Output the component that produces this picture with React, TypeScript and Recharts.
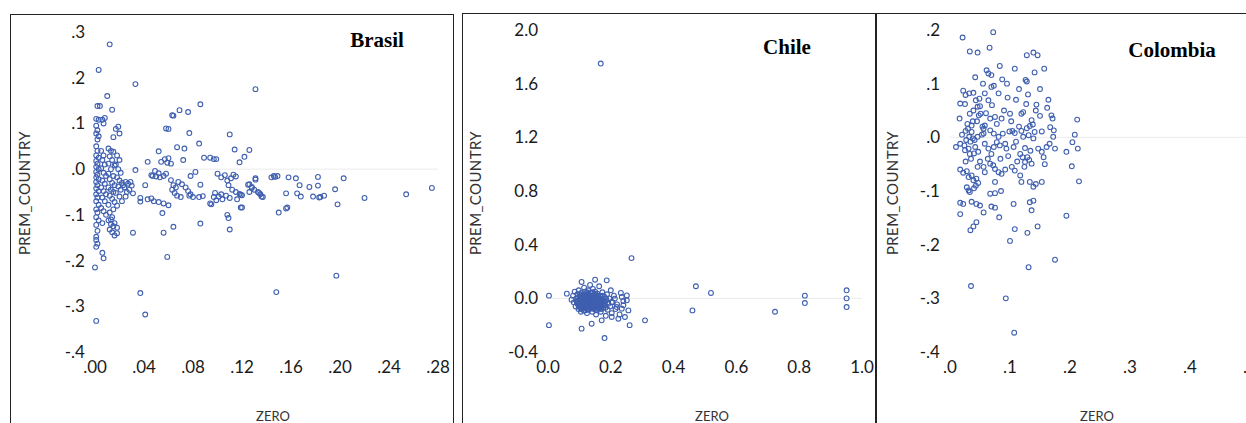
import { ReferenceLine, Scatter, ScatterChart, XAxis, YAxis } from 'recharts';

type Pt = [number, number];

// Brasil: ZERO vs PREM_COUNTRY
const brasilPoints: Pt[] = [
  [0.012, 0.273], [0.003, 0.217], [0.033, 0.186], [0.131, 0.175], [0.010, 0.160], [0.002, 0.138], [0.004, 0.138],
  [0.014, 0.130], [0.086, 0.142], [0.069, 0.129], [0.076, 0.125], [0.063, 0.118], [0.064, 0.117], [0.058, 0.089],
  [0.060, 0.088], [0.077, 0.079], [0.110, 0.076], [0.085, 0.056], [0.073, 0.045], [0.052, 0.039], [0.114, 0.043],
  [0.126, 0.042], [0.122, 0.027], [0.118, 0.015], [0.097, 0.022], [0.099, 0.022], [0.072, 0.020], [0.054, 0.016],
  [0.057, 0.022], [0.060, 0.024], [0.062, 0.012], [0.059, 0.014], [0.043, 0.016], [0.033, -0.002],
  [0.082, -0.006], [0.078, -0.015], [0.046, -0.013], [0.050, -0.016], [0.053, -0.018], [0.056, -0.015], [0.058, -0.010],
  [0.062, -0.024], [0.064, -0.035], [0.063, -0.045], [0.065, -0.052], [0.067, -0.058], [0.070, -0.061], [0.066, -0.040],
  [0.068, -0.028], [0.071, -0.033], [0.074, -0.040], [0.076, -0.048], [0.078, -0.055], [0.080, -0.061], [0.077, -0.058],
  [0.086, -0.034], [0.085, -0.061], [0.088, -0.059], [0.041, -0.035], [0.037, -0.063], [0.043, -0.066], [0.048, -0.070],
  [0.052, -0.072], [0.056, -0.075], [0.060, -0.079], [0.094, -0.075], [0.098, -0.052], [0.101, -0.060], [0.104, -0.066],
  [0.107, -0.058], [0.110, -0.063], [0.103, -0.055], [0.100, -0.010], [0.103, -0.018], [0.106, -0.013], [0.108, -0.025],
  [0.111, -0.020], [0.113, -0.012], [0.115, -0.016], [0.109, -0.035], [0.112, -0.045], [0.115, -0.050], [0.118, -0.054],
  [0.120, -0.057], [0.125, -0.034], [0.128, -0.041], [0.130, -0.045], [0.133, -0.050], [0.135, -0.055], [0.137, -0.061],
  [0.131, -0.020], [0.144, -0.018], [0.146, -0.015], [0.158, -0.018], [0.156, -0.053], [0.156, -0.086], [0.150, -0.095],
  [0.119, -0.084], [0.108, -0.100], [0.109, -0.107], [0.086, -0.119], [0.064, -0.126], [0.055, -0.096], [0.031, -0.139],
  [0.056, -0.139], [0.110, -0.132], [0.059, -0.192], [0.000, -0.215], [0.001, -0.332], [0.037, -0.271], [0.041, -0.318],
  [0.148, -0.269], [0.197, -0.233], [0.157, -0.084], [0.120, -0.084], [0.006, -0.183], [0.007, -0.195], [0.001, -0.170],
  [0.002, -0.163], [0.001, -0.155], [0.001, -0.148],
  [0.275, -0.041], [0.254, -0.055], [0.220, -0.063], [0.203, -0.020], [0.198, -0.077], [0.196, -0.044], [0.187, -0.058],
  [0.183, -0.062], [0.184, -0.061], [0.178, -0.060], [0.182, -0.036], [0.182, -0.017], [0.175, -0.039], [0.168, -0.060],
  [0.167, -0.035], [0.165, -0.053], [0.164, -0.020], [0.149, -0.015], [0.147, -0.017], [0.136, -0.060], [0.134, -0.052],
  [0.128, -0.039], [0.131, -0.023], [0.126, -0.033], [0.126, -0.050], [0.119, -0.056], [0.116, -0.066], [0.097, -0.061],
  [0.095, -0.077], [0.099, -0.068], [0.089, 0.025], [0.094, 0.025], [0.067, 0.048], [0.052, -0.009], [0.049, -0.004],
  [0.047, -0.015], [0.030, -0.036], [0.029, -0.028], [0.031, -0.053], [0.046, -0.064], [0.037, -0.071],
  [0.001, 0.110], [0.003, 0.108], [0.001, 0.095], [0.002, 0.085], [0.001, 0.078], [0.003, 0.072], [0.002, 0.065],
  [0.001, 0.050], [0.002, 0.040], [0.001, 0.030], [0.003, 0.025], [0.001, 0.018], [0.002, 0.012], [0.001, 0.005],
  [0.003, 0.000], [0.001, -0.006], [0.002, -0.012], [0.001, -0.018], [0.003, -0.022], [0.001, -0.028], [0.002, -0.035],
  [0.001, -0.042], [0.003, -0.048], [0.001, -0.055], [0.002, -0.062], [0.001, -0.070], [0.003, -0.078], [0.001, -0.088],
  [0.002, -0.095], [0.001, -0.105], [0.003, -0.112], [0.001, -0.122], [0.002, -0.135],
  [0.006, 0.108], [0.008, 0.112], [0.007, 0.100], [0.005, 0.040], [0.007, 0.030], [0.006, 0.020], [0.008, 0.010],
  [0.005, 0.002], [0.007, -0.008], [0.009, -0.015], [0.006, -0.025], [0.008, -0.032], [0.005, -0.040], [0.007, -0.048],
  [0.009, -0.055], [0.006, -0.062], [0.008, -0.070], [0.005, -0.085], [0.007, -0.092], [0.006, -0.118], [0.009, -0.100],
  [0.011, 0.045], [0.013, 0.040], [0.015, 0.038], [0.012, 0.028], [0.014, 0.020], [0.011, 0.012], [0.016, 0.008],
  [0.013, 0.000], [0.011, -0.010], [0.015, -0.015], [0.012, -0.022], [0.014, -0.030], [0.016, -0.035], [0.011, -0.040],
  [0.013, -0.045], [0.015, -0.050], [0.012, -0.058], [0.014, -0.065], [0.016, -0.072], [0.011, -0.078], [0.012, -0.095],
  [0.014, -0.105], [0.011, -0.112], [0.013, -0.120], [0.015, -0.125], [0.012, -0.132], [0.014, -0.138], [0.016, -0.145],
  [0.013, -0.110], [0.016, -0.118], [0.018, -0.128], [0.018, -0.140],
  [0.018, 0.030], [0.020, 0.020], [0.017, 0.010], [0.019, 0.000], [0.021, -0.008], [0.018, -0.018], [0.020, -0.025],
  [0.022, -0.030], [0.019, -0.038], [0.021, -0.045], [0.017, -0.052], [0.020, -0.060], [0.023, -0.035], [0.025, -0.028],
  [0.024, -0.040], [0.026, -0.050], [0.027, -0.032], [0.022, -0.070], [0.018, -0.080], [0.015, -0.088], [0.019, 0.093],
  [0.020, 0.078], [0.017, 0.088], [0.015, 0.070], [0.025, -0.060], [0.028, -0.045],
];

// Chile
const chilePoints: Pt[] = [
  [0.168, 1.75], [0.266, 0.30], [0.471, 0.09], [0.519, 0.04], [0.46, -0.09], [0.723, -0.10], [0.818, 0.02],
  [0.818, -0.035], [0.951, 0.06], [0.951, 0.0], [0.951, -0.065], [0.003, 0.02], [0.003, -0.20], [0.18, -0.296],
  [0.309, -0.164], [0.26, -0.20], [0.107, 0.122], [0.15, 0.139], [0.187, 0.134], [0.06, 0.035],
  [0.235, 0.01], [0.251, -0.015], [0.256, -0.09], [0.245, -0.139], [0.224, -0.152], [0.203, -0.139], [0.171, -0.164],
  [0.139, -0.189], [0.107, -0.226], [0.203, -0.027], [0.219, -0.065], [0.235, -0.077], [0.24, -0.052], [0.251, 0.022],
  [0.213, -0.002],
  [0.075, -0.01], [0.08, 0.02], [0.082, -0.03], [0.085, 0.05], [0.088, -0.06], [0.09, 0.0], [0.092, -0.02],
  [0.094, 0.03], [0.095, -0.045], [0.097, -0.08], [0.098, 0.06], [0.1, -0.01], [0.1, -0.035], [0.102, 0.015],
  [0.103, -0.06], [0.105, -0.1], [0.106, 0.04], [0.107, -0.02], [0.108, -0.05], [0.11, 0.0], [0.11, -0.075],
  [0.112, 0.025], [0.113, -0.03], [0.114, -0.09], [0.115, 0.08], [0.116, -0.01], [0.117, -0.055], [0.118, 0.05],
  [0.12, -0.04], [0.12, 0.01], [0.121, -0.07], [0.122, -0.02], [0.123, 0.03], [0.124, -0.11], [0.125, -0.05],
  [0.126, 0.0], [0.127, -0.03], [0.128, 0.06], [0.129, -0.085], [0.13, -0.015], [0.131, 0.02], [0.132, -0.06],
  [0.133, -0.04], [0.134, 0.1], [0.135, -0.005], [0.136, -0.025], [0.137, -0.07], [0.138, 0.04], [0.139, -0.045],
  [0.14, 0.01], [0.141, -0.1], [0.142, -0.03], [0.143, 0.07], [0.144, -0.055], [0.145, -0.01], [0.146, 0.025],
  [0.147, -0.08], [0.148, -0.04], [0.149, 0.0], [0.15, 0.05], [0.151, -0.065], [0.152, -0.02], [0.153, -0.12],
  [0.154, 0.015], [0.155, -0.045], [0.156, -0.09], [0.157, 0.035], [0.158, -0.03], [0.16, -0.06], [0.161, 0.0],
  [0.162, -0.015], [0.163, 0.09], [0.164, -0.075], [0.165, -0.04], [0.167, 0.02], [0.168, -0.1], [0.17, -0.025],
  [0.171, -0.055], [0.173, 0.045], [0.174, -0.005], [0.176, -0.07], [0.178, -0.035], [0.18, 0.01], [0.182, -0.05],
  [0.184, -0.13], [0.186, -0.015], [0.188, 0.03], [0.19, -0.085], [0.192, -0.04], [0.195, 0.0], [0.198, -0.06],
  [0.2, 0.06], [0.203, -0.11], [0.206, -0.03], [0.21, 0.02], [0.215, -0.08], [0.22, -0.045], [0.228, -0.12],
  [0.232, 0.04], [0.24, -0.02],
  [0.095, -0.015], [0.098, -0.05], [0.104, -0.025], [0.108, 0.01], [0.111, -0.045], [0.115, -0.065], [0.119, -0.005],
  [0.122, -0.04], [0.126, -0.08], [0.128, 0.015], [0.131, -0.05], [0.134, -0.02], [0.137, 0.005], [0.14, -0.065],
  [0.143, -0.035], [0.146, -0.05], [0.149, -0.025], [0.152, 0.01], [0.155, -0.07], [0.158, -0.01], [0.161, -0.045],
  [0.165, -0.02], [0.168, -0.06], [0.172, -0.03], [0.176, -0.045], [0.12, -0.025], [0.13, -0.035], [0.14, -0.02],
  [0.11, -0.06], [0.125, -0.015],
  [0.092, -0.035], [0.096, 0.005], [0.099, -0.065], [0.101, 0.03], [0.104, -0.045], [0.106, -0.08], [0.109, -0.015],
  [0.111, 0.015], [0.113, -0.055], [0.116, -0.035], [0.118, 0.025], [0.119, -0.09], [0.121, -0.05], [0.123, -0.01],
  [0.124, 0.045], [0.127, -0.065], [0.129, -0.025], [0.13, 0.035], [0.132, -0.08], [0.133, -0.01], [0.135, -0.045],
  [0.136, 0.02], [0.138, -0.055], [0.139, -0.03], [0.141, 0.045], [0.142, -0.075], [0.144, -0.015], [0.145, -0.04],
  [0.147, 0.01], [0.148, -0.06], [0.15, -0.03], [0.151, 0.03], [0.153, -0.085], [0.154, -0.05], [0.156, -0.02],
  [0.157, 0.0], [0.159, -0.04], [0.16, 0.02], [0.162, -0.065], [0.163, -0.03], [0.166, -0.05], [0.167, 0.0],
  [0.169, -0.04], [0.17, -0.08], [0.173, -0.015], [0.175, 0.02], [0.177, -0.055], [0.18, -0.025], [0.183, -0.07],
  [0.185, 0.0], [0.105, -0.005], [0.117, -0.025], [0.128, -0.045], [0.139, -0.01], [0.147, -0.065], [0.158, -0.05],
];

// Colombia
const colombiaPoints: Pt[] = [
  [0.021, 0.186], [0.072, 0.196], [0.033, 0.160], [0.046, 0.158], [0.066, 0.167], [0.128, 0.153], [0.139, 0.158],
  [0.146, 0.153], [0.083, 0.133], [0.108, 0.128], [0.157, 0.128], [0.061, 0.125], [0.064, 0.119], [0.069, 0.116],
  [0.087, 0.108], [0.126, 0.107], [0.141, 0.121], [0.042, 0.112], [0.128, 0.104], [0.069, 0.094], [0.073, 0.096],
  [0.022, 0.087], [0.026, 0.079], [0.032, 0.082], [0.017, 0.063], [0.025, 0.062], [0.039, 0.083], [0.043, 0.069],
  [0.049, 0.072], [0.058, 0.082], [0.064, 0.069], [0.081, 0.082], [0.096, 0.074], [0.110, 0.070], [0.130, 0.080],
  [0.164, 0.070], [0.144, 0.061], [0.143, 0.050], [0.169, 0.041], [0.171, 0.035], [0.212, 0.033], [0.016, 0.035],
  [0.033, 0.044], [0.039, 0.050], [0.046, 0.057], [0.050, 0.058], [0.048, 0.041], [0.051, 0.044], [0.067, 0.035],
  [0.075, 0.038], [0.086, 0.035], [0.100, 0.044], [0.119, 0.044], [0.122, 0.047], [0.136, 0.032], [0.036, 0.022],
  [0.054, 0.020], [0.058, 0.022], [0.056, 0.016], [0.026, 0.012], [0.030, 0.016], [0.036, 0.010], [0.032, 0.001],
  [0.038, -0.002], [0.027, -0.005], [0.034, -0.008], [0.041, -0.005], [0.046, 0.001], [0.056, 0.007], [0.067, 0.013],
  [0.073, 0.007], [0.081, 0.001], [0.088, 0.007], [0.099, 0.011], [0.104, 0.012], [0.108, 0.008], [0.119, 0.012],
  [0.128, 0.017], [0.133, 0.021], [0.138, 0.024], [0.122, 0.001], [0.131, 0.004], [0.139, -0.002], [0.153, 0.011],
  [0.167, 0.019], [0.173, 0.013], [0.172, 0.001], [0.017, -0.012], [0.010, -0.018], [0.025, -0.024], [0.031, -0.021],
  [0.033, -0.031], [0.042, -0.018], [0.047, -0.027], [0.058, -0.012], [0.064, -0.021], [0.069, -0.031], [0.073, -0.018],
  [0.078, -0.009], [0.083, -0.015], [0.092, -0.012], [0.094, -0.021], [0.106, -0.018], [0.117, -0.031], [0.121, -0.037],
  [0.125, -0.046], [0.129, -0.037], [0.132, -0.042], [0.136, -0.049], [0.147, -0.021], [0.153, -0.027], [0.156, -0.037],
  [0.161, -0.018], [0.166, -0.012], [0.175, -0.021], [0.194, -0.027], [0.204, -0.009], [0.208, 0.005], [0.213, -0.021],
  [0.203, -0.054], [0.215, -0.082], [0.017, -0.060], [0.022, -0.066], [0.028, -0.063], [0.031, -0.074], [0.036, -0.071],
  [0.039, -0.080], [0.044, -0.077], [0.047, -0.085], [0.028, -0.093], [0.031, -0.099], [0.033, -0.102], [0.040, -0.095],
  [0.043, -0.090], [0.056, -0.055], [0.058, -0.065], [0.067, -0.049], [0.072, -0.052], [0.075, -0.059], [0.081, -0.065],
  [0.086, -0.068], [0.092, -0.060], [0.103, -0.055], [0.108, -0.062], [0.117, -0.071], [0.075, -0.083], [0.119, -0.083],
  [0.133, -0.083], [0.139, -0.092], [0.143, -0.087], [0.153, -0.083], [0.017, -0.122], [0.022, -0.124], [0.036, -0.120],
  [0.017, -0.143], [0.044, -0.124], [0.050, -0.127], [0.056, -0.140], [0.069, -0.129], [0.075, -0.131], [0.067, -0.105],
  [0.075, -0.104], [0.082, -0.149], [0.106, -0.124], [0.133, -0.121], [0.139, -0.118], [0.136, -0.136], [0.034, -0.173],
  [0.039, -0.166], [0.044, -0.158], [0.108, -0.171], [0.129, -0.178], [0.146, -0.166], [0.100, -0.193], [0.194, -0.146],
  [0.175, -0.228], [0.131, -0.242], [0.035, -0.277], [0.093, -0.300], [0.107, -0.364],
  [0.020, 0.005], [0.024, -0.015], [0.029, 0.025], [0.035, -0.040], [0.040, -0.030], [0.045, 0.030], [0.050, -0.045],
  [0.053, 0.005], [0.060, 0.045], [0.063, -0.040], [0.070, 0.060], [0.078, 0.025], [0.084, -0.040], [0.090, 0.050],
  [0.097, -0.035], [0.102, 0.030], [0.112, -0.045], [0.115, 0.020], [0.124, -0.055], [0.127, 0.062], [0.134, -0.025],
  [0.141, 0.010], [0.150, 0.040], [0.158, -0.050], [0.162, 0.055], [0.110, -0.008], [0.125, -0.020], [0.046, -0.055],
  [0.026, -0.045], [0.038, 0.030], [0.115, 0.090], [0.095, 0.100], [0.055, 0.100], [0.150, 0.090], [0.085, -0.100],
];

const brasilXTicks = [0, 0.04, 0.08, 0.12, 0.16, 0.2, 0.24, 0.28];
const brasilYTicks = [-0.4, -0.3, -0.2, -0.1, 0, 0.1, 0.2, 0.3];
const chileXTicks = [0, 0.2, 0.4, 0.6, 0.8, 1.0];
const chileYTicks = [-0.4, 0, 0.4, 0.8, 1.2, 1.6, 2.0];
const colombiaXTicks = [0, 0.1, 0.2, 0.3, 0.4, 0.5];
const colombiaYTicks = [-0.4, -0.3, -0.2, -0.1, 0, 0.1, 0.2];

const SANS = 'Lato, "Open Sans", sans-serif';
const SERIF = '"Liberation Serif", "Times New Roman", serif';
const DOT = '#3f5fb0';

// ".04" / "-.1" style used by EViews
const dotFmt = (dec: number) => (v: number) => {
  const s = Math.abs(v).toFixed(dec).replace(/^0/, '');
  return v < -1e-9 ? '-' + s : s;
};
const plainFmt = (v: number) => v.toFixed(1);

const renderDot = (props: any) => (
  <circle cx={props.cx} cy={props.cy} r={2.4} fill="none" stroke={DOT} strokeWidth={1.1} />
);

interface PanelProps {
  points: Pt[];
  left: number;
  width: number;
  yAxisWidth: number;
  top: number;
  xDomain: [number, number];
  yDomain: [number, number];
  xTicks: number[];
  yTicks: number[];
  fmtX: (v: number) => string;
  fmtY: (v: number) => string;
}

function Panel(p: PanelProps) {
  const data = p.points.map(([x, y]) => ({ x, y }));
  const tick = { fill: '#1a1a1a', fontSize: 17, fontFamily: SANS };
  return (
    <div style={{ position: 'absolute', left: p.left, top: 0 }}>
      <ScatterChart
        width={p.width}
        height={382}
        margin={{ top: p.top, right: 22, bottom: 0, left: 0 }}
      >
        <XAxis
          type="number"
          dataKey="x"
          domain={p.xDomain}
          ticks={p.xTicks}
          interval={0}
          tickFormatter={p.fmtX}
          axisLine={false}
          tickLine={false}
          tickSize={6}
          tickMargin={3}
          height={30}
          tick={tick}
        />
        <YAxis
          type="number"
          dataKey="y"
          domain={p.yDomain}
          ticks={p.yTicks}
          interval={0}
          tickFormatter={p.fmtY}
          axisLine={false}
          tickLine={false}
          tickSize={6}
          tickMargin={4}
          width={p.yAxisWidth}
          tick={tick}
        />
        <ReferenceLine y={0} stroke="#ebebeb" strokeWidth={1} />
        <Scatter data={data} shape={renderDot} isAnimationActive={false} />
      </ScatterChart>
    </div>
  );
}

const frame = (left: number, top: number, width: number) => (
  <div
    style={{
      position: 'absolute',
      left,
      top,
      width,
      height: 440,
      border: '1.5px solid #222',
      boxSizing: 'border-box',
    }}
  />
);

const title = (text: string, cx: number, baseline: number) => (
  <div
    style={{
      position: 'absolute',
      left: cx - 60,
      width: 120,
      top: baseline - 19,
      textAlign: 'center',
      fontFamily: SERIF,
      fontWeight: 'bold',
      fontSize: 21,
      lineHeight: '21px',
      color: '#000',
    }}
  >
    {text}
  </div>
);

const yLabel = (cx: number, cy: number) => (
  <div
    style={{
      position: 'absolute',
      left: cx - 80,
      top: cy - 9,
      width: 160,
      height: 18,
      lineHeight: '18px',
      textAlign: 'center',
      transform: 'rotate(-90deg)',
      fontFamily: SANS,
      fontSize: 15,
      letterSpacing: 0.4,
      color: '#333',
    }}
  >
    PREM_COUNTRY
  </div>
);

const xLabel = (cx: number) => (
  <div
    style={{
      position: 'absolute',
      left: cx - 40,
      width: 80,
      top: 410,
      height: 12,
      textAlign: 'center',
      fontFamily: SANS,
      fontSize: 13,
      lineHeight: '12px',
      color: '#333',
    }}
  >
    ZERO
  </div>
);

export default function App() {
  return (
    <div
      style={{
        position: 'absolute',
        left: 0,
        top: 0,
        width: 1246,
        height: 423,
        overflow: 'hidden',
        background: '#fff',
      }}
    >
      {frame(10, 14, 444)}
      {frame(462, 13, 415)}
      {frame(875, 13, 400)}

      <Panel
        points={brasilPoints}
        left={20}
        width={440}
        yAxisWidth={75}
        top={32}
        xDomain={[0, 0.28]}
        yDomain={[-0.4, 0.3]}
        xTicks={brasilXTicks}
        yTicks={brasilYTicks}
        fmtX={dotFmt(2)}
        fmtY={dotFmt(1)}
      />
      <Panel
        points={chilePoints}
        left={475}
        width={409}
        yAxisWidth={73}
        top={30}
        xDomain={[0, 1.0]}
        yDomain={[-0.4, 2.0]}
        xTicks={chileXTicks}
        yTicks={chileYTicks}
        fmtX={plainFmt}
        fmtY={plainFmt}
      />
      <Panel
        points={colombiaPoints}
        left={880}
        width={392}
        yAxisWidth={70}
        top={30}
        xDomain={[0, 0.5]}
        yDomain={[-0.4, 0.2]}
        xTicks={colombiaXTicks}
        yTicks={colombiaYTicks}
        fmtX={dotFmt(1)}
        fmtY={dotFmt(1)}
      />

      {title('Brasil', 377, 49)}
      {title('Chile', 787, 56)}
      {title('Colombia', 1172, 59)}

      {yLabel(24, 193)}
      {yLabel(475, 193)}
      {yLabel(892, 193)}

      {xLabel(273)}
      {xLabel(712)}
      {xLabel(1097)}
    </div>
  );
}
